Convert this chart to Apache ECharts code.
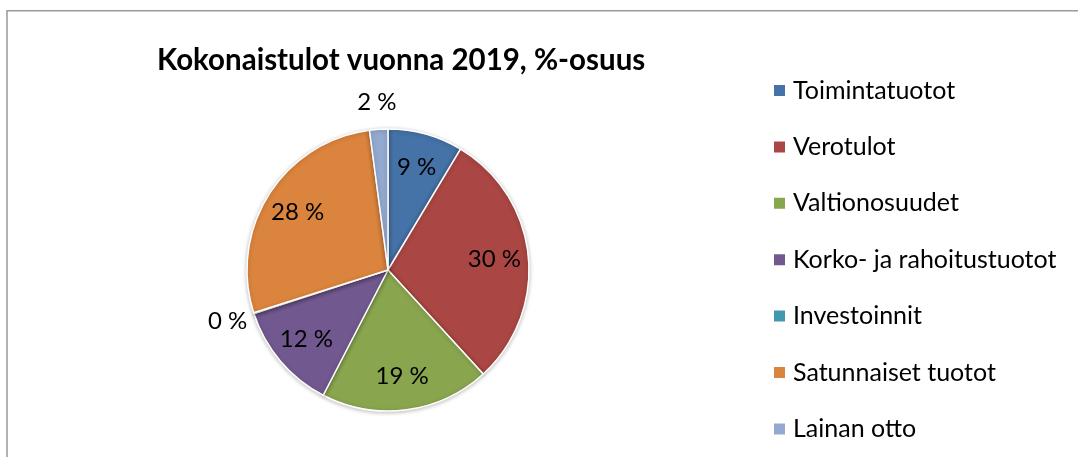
<!DOCTYPE html>
<html><head><meta charset="utf-8">
<script src="https://cdn.jsdelivr.net/npm/echarts@6/dist/echarts.min.js"></script>
<style>html,body{margin:0;padding:0;background:#fff}#c{width:1078px;height:457px}</style>
</head><body><div id="c"></div>
<script>
var titleText = 'Kokonaistulot vuonna 2019, %-osuus';
var categories = ['Toimintatuotot','Verotulot','Valtionosuudet','Korko- ja rahoitustuotot','Investoinnit','Satunnaiset tuotot','Lainan otto'];
var values = [8.6, 29.6, 19.4, 12.4, 0.1, 27.8, 2.1];
var colors = ['#4572A7','#AA4643','#89A54E','#71588F','#4198AF','#DB843D','#93A9CF'];
var outsideLabel = [false,false,false,false,true,false,true];

var FONT = 'Lato';
var center = [388, 270];
var R = 141;
function fmt(p){ return Math.round(p.percent) + ' %'; }

var mainData = categories.map(function(n,i){ return {name:n, value:values[i], itemStyle:{color:colors[i]}}; });
var innerData = categories.map(function(n,i){ return {name:n, value:values[i], label:{show:!outsideLabel[i]}}; });
var outerData = categories.map(function(n,i){ return {name:n, value:values[i], label:{show:outsideLabel[i]}}; });

var chart = echarts.init(document.getElementById('c'));
chart.setOption({
  animation:false,
  title:{text:titleText, left:157, top:45, padding:0, textStyle:{fontFamily:FONT, fontSize:29.5, fontWeight:'bold', color:'#000'}},
  legend:{
    orient:'vertical', left:767, top:73,
    data: categories.map(function(n,i){ return {name:n, itemStyle:{color:colors[i]}}; }),
    icon:'rect', itemWidth:13, itemHeight:13, itemGap:31.4,
    textStyle:{fontFamily:FONT, fontSize:25, color:'#000', lineHeight:24, padding:[0,0,0,2]},
    selectedMode:false
  },
  graphic:[{type:'rect', shape:{x:7, y:10.8, width:1200, height:600}, style:{fill:'none', stroke:'#999', lineWidth:1.5}, silent:true}],
  series:[
    {type:'pie', center:center, radius:R, startAngle:90, clockwise:true, data:mainData,
     label:{show:false}, labelLine:{show:false}, silent:true,
     itemStyle:{borderColor:'#fff', borderWidth:1.5, shadowBlur:4, shadowColor:'rgba(0,0,0,0.25)', shadowOffsetY:1}},
    {type:'pie', center:center, radius:[67, R], startAngle:90, clockwise:true, data:innerData, silent:true,
     itemStyle:{color:'rgba(0,0,0,0)'}, labelLine:{show:false},
     label:{position:'inside', formatter:fmt, fontFamily:FONT, fontSize:24, color:'#000'}},
    {type:'pie', center:center, radius:[R, 190], startAngle:90, clockwise:true, data:outerData, silent:true,
     itemStyle:{color:'rgba(0,0,0,0)'}, labelLine:{show:false},
     label:{position:'inside', formatter:fmt, fontFamily:FONT, fontSize:24, color:'#000'}}
  ]
});
</script></body></html>
